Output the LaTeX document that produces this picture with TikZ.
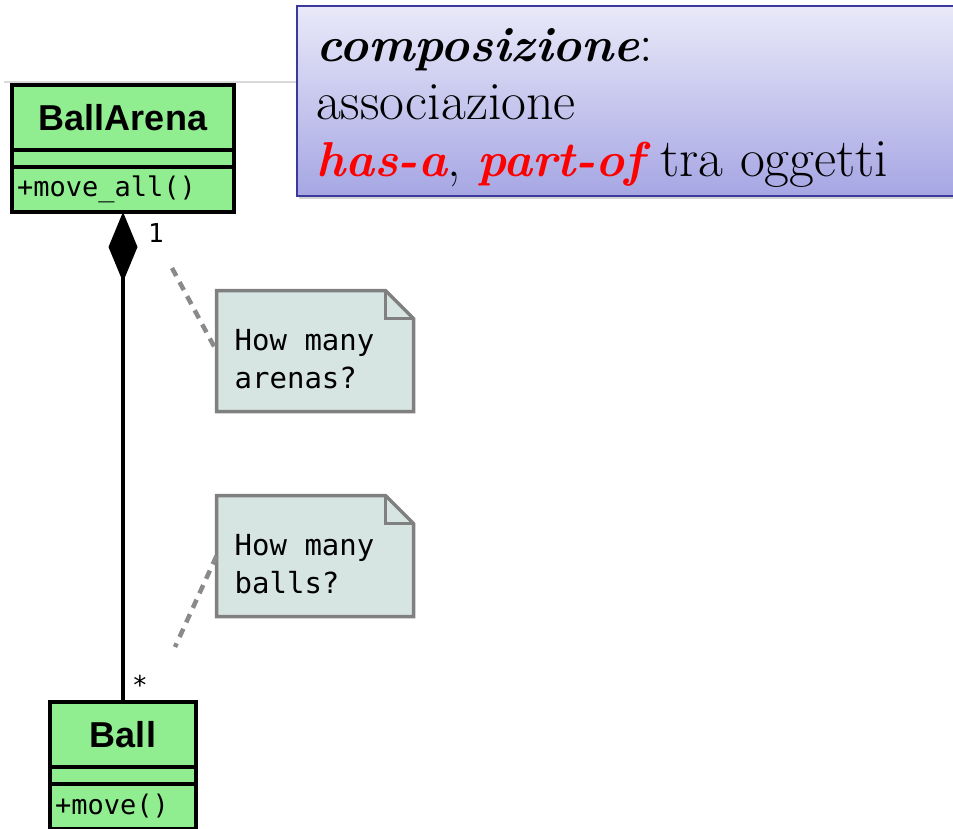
\documentclass[tikz,border=0pt]{standalone}
\usepackage{fontspec}
\newfontfamily\umlsans{Liberation Sans}
\newfontfamily\umlmono{DejaVu Sans Mono}
\usetikzlibrary{positioning,arrows.meta,shadows}

\definecolor{classfill}{HTML}{90EE90}
\definecolor{notefill}{HTML}{D6E4E2}
\definecolor{noteedge}{HTML}{808080}
\definecolor{notelinkc}{HTML}{8A8A8A}
\definecolor{titletop}{HTML}{E9E9F9}
\definecolor{titlebot}{HTML}{A6A6E4}
\definecolor{titleedge}{HTML}{3A3A9C}

\tikzset{
  umlpart/.style={draw=black, line width=4.5pt, fill=classfill, inner sep=0pt, inner xsep=5pt, outer sep=0pt},
  classname/.style={umlpart, text width=#1, align=center, minimum height=65pt,
    font=\umlsans\bfseries\fontsize{36}{40}\selectfont},
  classattr/.style={umlpart, text width=#1, minimum height=17pt},
  classops/.style={umlpart, text width=#1, align=left, minimum height=45pt,
    font=\umlmono\fontsize{27}{30}\selectfont},
  notebody/.style={minimum width=197pt, minimum height=121pt, inner sep=0pt, outer sep=0pt},
  noteedge/.style={draw=noteedge, fill=notefill, line width=3.5pt, line join=miter},
  notetext/.style={anchor=west, align=left, inner sep=0pt, font=\umlmono\fontsize{29}{38}\selectfont},
  notelink/.style={draw=notelinkc, line width=4.5pt, dash pattern=on 9pt off 7pt},
  assoc/.style={line width=4.5pt, arrows={Diamond[length=70pt,width=29pt]-}},
  mult/.style={anchor=base, inner sep=0pt, font=\umlmono\fontsize{26}{30}\selectfont},
  titlebox/.style={draw=titleedge, line width=2pt, top color=titletop, bottom color=titlebot,
    minimum width=680pt, minimum height=190pt,
    drop shadow={opacity=0.35, shadow xshift=2pt, shadow yshift=-3pt}},
  titleline/.style={anchor=base west, inner sep=0pt, font=\fontsize{54}{57}\selectfont},
  keyword/.style={font=\fontsize{49}{57}\selectfont\bfseries\itshape}
}

% note outline with folded corner
\newcommand{\drawnote}[1]{%
  \filldraw[noteedge] (#1.north west) -- ([xshift=-28pt]#1.north east)
    -- ([yshift=-28pt]#1.north east) -- (#1.south east) -- (#1.south west) -- cycle;
  \draw[noteedge, fill=none] ([xshift=-28pt]#1.north east) |- ([yshift=-28pt]#1.north east);}
\newcommand{\kw}[1]{{\fontsize{49}{57}\selectfont\bfseries\itshape #1}}

\begin{document}
\begin{tikzpicture}[x=1pt,y=-1pt]
  \useasboundingbox (0,0) rectangle (953,829);

  \draw[black!15, line width=1.5pt] (4,82) -- (310,82);

  % title
  \node[titlebox] (title) at (637,101) {};
  \node[titleline] (tline1) at (316,62) {\kw{composizione}:};
  \node[titleline] (tline2) at (316,120) {associazione};
  \node[titleline] (tline3) at (316,177)
    {\textcolor{red}{\kw{has-a}}, \textcolor{red}{\kw{part-of}} tra oggetti};

  % classes
  \node[classname=212pt] (arenaname) at (123,117.5) {BallArena};
  \node[classattr=212pt, below=0pt of arenaname] (arenaattr) {};
  \node[classops=212pt, below=0pt of arenaattr] (arenaops) {+move\_all()};

  \node[classname=136pt] (ballname) at (123,734.5) {Ball};
  \node[classattr=136pt, below=0pt of ballname] (ballattr) {};
  \node[classops=136pt, below=0pt of ballattr] (ballops) {+move()};

  \draw[assoc] (arenaops.south) -- (ballname.north);
  \node[mult] (multone) at (156,242) {1};
  \node[mult] (multmany) at (140,694) {*};

  % notes
  \node[notebody] (note1) at (315,351) {};
  \drawnote{note1}
  \node[notetext] (note1txt) at ([xshift=18pt,yshift=-8pt]note1.west) {How many\\arenas?};

  \node[notebody] (note2) at (315,556) {};
  \drawnote{note2}
  \node[notetext] (note2txt) at ([xshift=18pt,yshift=-8pt]note2.west) {How many\\balls?};

  \coordinate (link1) at (172,268);
  \coordinate (link2) at (175,647);
  \draw[notelink] (link1) -- (note1.west);
  \draw[notelink] (note2.west) -- (link2);
\end{tikzpicture}
\end{document}
